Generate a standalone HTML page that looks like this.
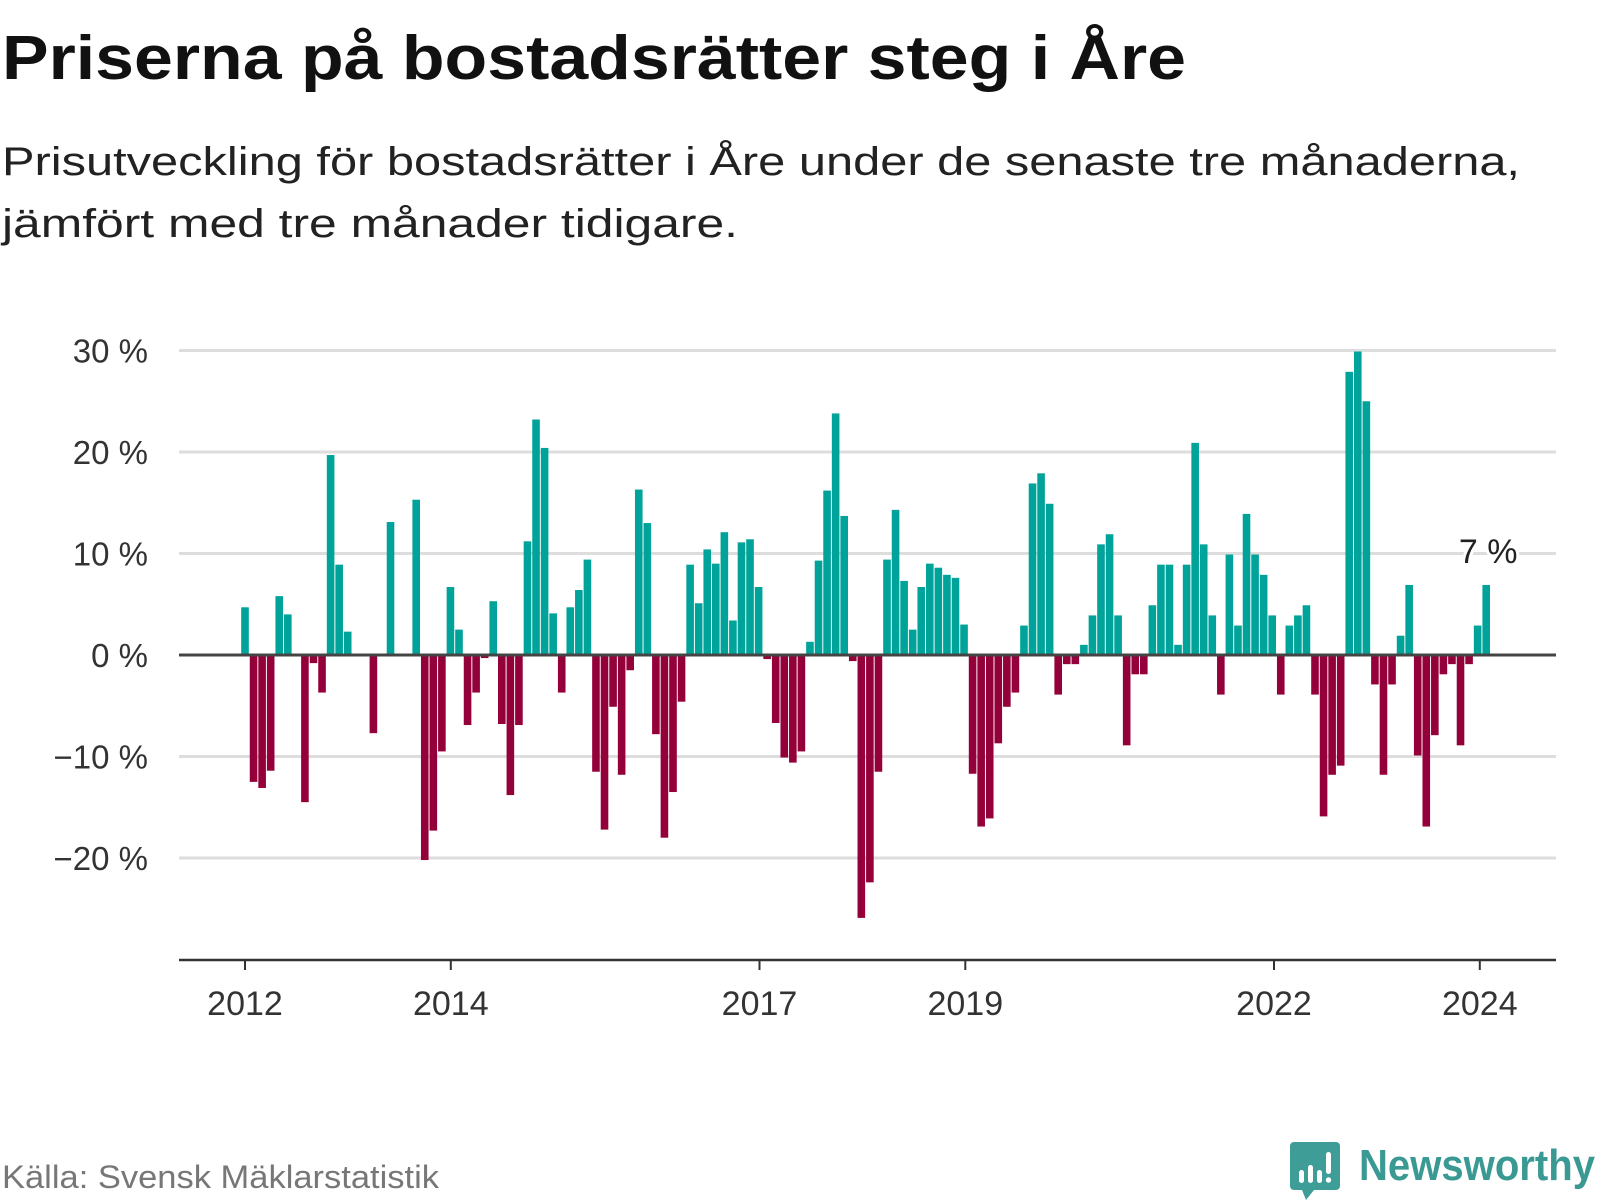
<!DOCTYPE html>
<html><head><meta charset="utf-8"><style>
html,body{margin:0;padding:0;background:#fff;}
svg{display:block;font-family:"Liberation Sans",sans-serif;}
</style></head><body>
<svg id="chart" width="1600" height="1200" viewBox="0 0 1600 1200" xmlns="http://www.w3.org/2000/svg">
<text x="2" y="79" font-size="62" font-weight="bold" fill="#111" textLength="1184" lengthAdjust="spacingAndGlyphs">Priserna på bostadsrätter steg i Åre</text>
<text x="2" y="175" font-size="40" fill="#222" textLength="1518" lengthAdjust="spacingAndGlyphs">Prisutveckling för bostadsrätter i Åre under de senaste tre månaderna,</text>
<text x="2" y="237" font-size="40" fill="#222" textLength="736" lengthAdjust="spacingAndGlyphs">jämfört med tre månader tidigare.</text>
<g id="grid"></g>
<g id="bars"></g>
<g id="axes"></g>
<text x="2" y="1188" font-size="32" fill="#777" textLength="437" lengthAdjust="spacingAndGlyphs">Källa: Svensk Mäklarstatistik</text>
<g>
<path d="M1294 1142 h42 a4 4 0 0 1 4 4 v40 a4 4 0 0 1 -4 4 h-22 l-8 10 l-4 -10 h-8 a4 4 0 0 1 -4 -4 v-40 a4 4 0 0 1 4 -4z" fill="#3f9d97"/>
<rect x="1299" y="1170" width="5" height="13" rx="2.5" fill="#fff"/>
<rect x="1308" y="1165" width="5" height="18" rx="2.5" fill="#fff"/>
<rect x="1317" y="1170" width="5" height="13" rx="2.5" fill="#fff"/>
<rect x="1326" y="1152" width="5" height="22" rx="2.5" fill="#fff"/>
<circle cx="1328.5" cy="1180" r="2.7" fill="#fff"/>
<text x="1359" y="1180" font-size="44" font-weight="bold" fill="#3a9a93" textLength="236" lengthAdjust="spacingAndGlyphs">Newsworthy</text>
</g>
</svg>
<script>
const monthIndex = [0,1,2,3,4,5,7,8,9,10,11,12,15,17,20,21,22,23,24,25,26,27,28,29,30,31,32,33,34,35,36,37,38,39,40,41,42,43,44,45,46,47,48,49,50,51,52,53,54,55,56,57,58,59,60,61,62,63,64,65,66,67,68,69,70,71,72,73,74,75,76,77,78,79,80,81,82,83,84,85,86,87,88,89,90,91,92,93,94,95,96,97,98,99,100,101,102,103,104,105,106,107,108,109,110,111,112,113,114,115,116,117,118,119,120,121,122,123,124,125,126,127,128,129,130,131,132,133,134,135,136,137,138,139,140,141,142,143,144,145];
const values = [4.7,-12.5,-13.1,-11.4,5.8,4.0,-14.5,-0.8,-3.7,19.7,8.9,2.3,-7.7,13.1,15.3,-20.2,-17.3,-9.5,6.7,2.5,-6.9,-3.7,-0.3,5.3,-6.8,-13.8,-6.9,11.2,23.2,20.4,4.1,-3.7,4.7,6.4,9.4,-11.5,-17.2,-5.1,-11.8,-1.5,16.3,13.0,-7.8,-18.0,-13.5,-4.6,8.9,5.1,10.4,9.0,12.1,3.4,11.1,11.4,6.7,-0.4,-6.7,-10.1,-10.6,-9.5,1.3,9.3,16.2,23.8,13.7,-0.6,-25.9,-22.4,-11.5,9.4,14.3,7.3,2.5,6.7,9.0,8.6,7.9,7.6,3.0,-11.7,-16.9,-16.1,-8.7,-5.1,-3.7,2.9,16.9,17.9,14.9,-3.9,-0.9,-0.9,1.0,3.9,10.9,11.9,3.9,-8.9,-1.9,-1.9,4.9,8.9,8.9,1.0,8.9,20.9,10.9,3.9,-3.9,9.9,2.9,13.9,9.9,7.9,3.9,-3.9,2.9,3.9,4.9,-3.9,-15.9,-11.8,-10.9,27.9,29.9,25.0,-2.9,-11.8,-2.9,1.9,6.9,-9.9,-16.9,-7.9,-1.9,-0.9,-8.9,-0.9,2.9,6.9];
const yTicks = [30,20,10,0,-10,-20];
const yTickLabels = ["30 %","20 %","10 %","0 %","\u221210 %","\u221220 %"];
const xTickYears = [2012,2014,2017,2019,2022,2024];
const xTickLabels = ["2012","2014","2017","2019","2022","2024"];
const lastLabel = "7 %";

const NS = "http://www.w3.org/2000/svg";
const y = v => 655 - v * 10.15;
const xm = m => 245 + m * 8.56;
const xy = yr => 245 + (yr - 2012) * 102.9;
function mk(tag, attrs, parent, txt) {
  const e = document.createElementNS(NS, tag);
  for (const k in attrs) e.setAttribute(k, attrs[k]);
  if (txt !== undefined) e.textContent = txt;
  parent.appendChild(e);
  return e;
}
const grid = document.getElementById('grid');
const bars = document.getElementById('bars');
const axes = document.getElementById('axes');
yTicks.forEach((t, i) => {
  if (t !== 0) {
    const l = mk('line', {x1: 179, x2: 1556, y1: y(t), y2: y(t), stroke: '#dddddd', 'stroke-width': 3}, grid);
    
    
  }
  const tx = mk('text', {x: 148, y: y(t) + 12, 'font-size': 33, fill: '#333', 'text-anchor': 'end'}, axes, yTickLabels[i]);
  
  
});
values.forEach((v, i) => {
  const x = xm(monthIndex[i]);
  const top = v >= 0 ? y(v) : y(0);
  const h = Math.abs(y(v) - y(0));
  const r = mk('rect', {x: x - 3.8, y: top, width: 7.6, height: h, fill: v >= 0 ? '#00a39a' : '#940039'}, bars);
  
  
});
const zl = mk('line', {x1: 179, x2: 1556, y1: y(0), y2: y(0), stroke: '#444', 'stroke-width': 3}, axes);


const ax = mk('line', {x1: 179, x2: 1556, y1: 960, y2: 960, stroke: '#333', 'stroke-width': 2.5}, axes);


xTickYears.forEach((yr, i) => {
  const tk = mk('line', {x1: xy(yr), x2: xy(yr), y1: 960, y2: 970, stroke: '#333', 'stroke-width': 2}, axes);
  
  
  const tl = mk('text', {x: xy(yr), y: 1015, 'font-size': 34, fill: '#333', 'text-anchor': 'middle'}, axes, xTickLabels[i]);
  
  
});
const lastX = xm(monthIndex[monthIndex.length - 1]);
const ll = mk('text', {x: lastX + 2, y: 563, 'font-size': 34, fill: '#222', 'text-anchor': 'middle', stroke: '#fff', 'stroke-width': 6, 'paint-order': 'stroke'}, axes, lastLabel);


</script>
</body></html>
